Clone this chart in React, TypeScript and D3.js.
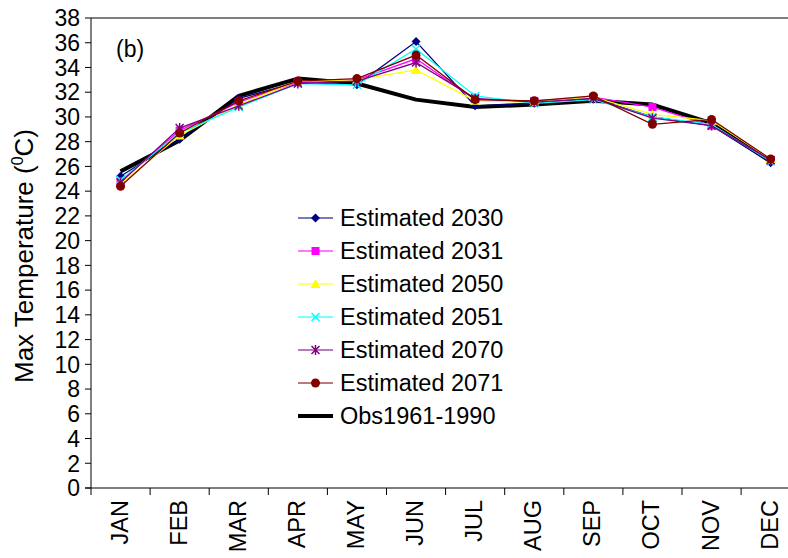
import React from "react";
import * as d3 from "d3";

const months = ["JAN", "FEB", "MAR", "APR", "MAY", "JUN", "JUL", "AUG", "SEP", "OCT", "NOV", "DEC"];
const yTicks = d3.range(0, 39, 2);

const est2030 = [25.2, 28.2, 31.5, 32.8, 32.6, 36.1, 30.9, 31.1, 31.5, 30.0, 29.3, 26.3];
const est2031 = [24.8, 28.9, 31.2, 32.8, 33.0, 34.7, 31.4, 31.3, 31.6, 30.8, 29.3, 26.5];
const est2050 = [24.6, 28.5, 31.0, 32.9, 33.0, 33.8, 31.3, 31.2, 31.6, 30.2, 29.7, 26.6];
const est2051 = [24.9, 28.7, 30.8, 32.7, 32.6, 35.5, 31.7, 31.1, 31.4, 30.0, 29.4, 26.4];
const est2070 = [24.7, 29.1, 30.9, 32.7, 32.9, 34.4, 31.5, 31.2, 31.5, 29.9, 29.3, 26.5];
const est2071 = [24.4, 28.7, 31.3, 32.9, 33.1, 35.0, 31.4, 31.3, 31.7, 29.4, 29.8, 26.6];
const obs = [25.6, 28.1, 31.7, 33.1, 32.7, 31.4, 30.8, 31.0, 31.3, 31.0, 29.5, 26.4];

type Marker = "diamond" | "square" | "triangle" | "x" | "asterisk" | "circle" | "none";

const series: { name: string; values: number[]; color: string; marker: Marker }[] = [
  { name: "Estimated 2030", values: est2030, color: "#000080", marker: "diamond" },
  { name: "Estimated 2031", values: est2031, color: "#FF00FF", marker: "square" },
  { name: "Estimated 2050", values: est2050, color: "#FFFF00", marker: "triangle" },
  { name: "Estimated 2051", values: est2051, color: "#00FFFF", marker: "x" },
  { name: "Estimated 2070", values: est2070, color: "#800080", marker: "asterisk" },
  { name: "Estimated 2071", values: est2071, color: "#800000", marker: "circle" },
];
const obsSeries = { name: "Obs1961-1990", values: obs, color: "#000000" };

const W = 788;
const H = 558;
const plotLeft = 91;
const plotTop = 18;
const plotBottom = 488;
const bandW = 59.1;
const FONT = "'Liberation Sans', Arial, sans-serif";

function MarkerShape({ type, x, y, color }: { type: Marker; x: number; y: number; color: string }) {
  const s = 4.5;
  switch (type) {
    case "diamond":
      return <path d={`M${x},${y - s}L${x + s},${y}L${x},${y + s}L${x - s},${y}Z`} fill={color} />;
    case "square":
      return <rect x={x - 4} y={y - 4} width={8} height={8} fill={color} />;
    case "triangle":
      return <path d={`M${x},${y - 5}L${x + 5},${y + 4}L${x - 5},${y + 4}Z`} fill={color} />;
    case "x":
      return (
        <path d={`M${x - 4},${y - 4}L${x + 4},${y + 4}M${x - 4},${y + 4}L${x + 4},${y - 4}`} stroke={color} strokeWidth={1.5} />
      );
    case "asterisk":
      return (
        <path
          d={`M${x - 4},${y - 4}L${x + 4},${y + 4}M${x - 4},${y + 4}L${x + 4},${y - 4}M${x},${y - 5}L${x},${y + 5}`}
          stroke={color}
          strokeWidth={1.5}
        />
      );
    case "circle":
      return <circle cx={x} cy={y} r={4.5} fill={color} />;
    default:
      return null;
  }
}

export default function App() {
  const x = d3
    .scaleBand<string>()
    .domain(months)
    .range([plotLeft, plotLeft + bandW * months.length])
    .padding(0);
  const y = d3.scaleLinear().domain([0, 38]).range([plotBottom, plotTop]);
  const cx = (m: string) => (x(m) as number) + x.bandwidth() / 2;

  const line = d3
    .line<number>()
    .x((_, i) => cx(months[i]))
    .y((d) => y(d));

  const legendX = 298;
  const legendY = 218;
  const legendStep = 33;

  return (
    <svg width={W} height={H} style={{ position: "absolute", left: 0, top: 0, background: "#fff" }} fontFamily={FONT}>
      <rect x={0} y={0} width={W} height={H} fill="#fff" />

      {/* plot frame */}
      <line x1={plotLeft} x2={W + 20} y1={plotTop} y2={plotTop} stroke="#000" strokeWidth={1} />
      <line x1={plotLeft} x2={plotLeft} y1={plotTop} y2={plotBottom} stroke="#000" strokeWidth={1} />
      <line x1={plotLeft - 6} x2={W + 20} y1={plotBottom} y2={plotBottom} stroke="#000" strokeWidth={1} />

      {/* y axis */}
      {yTicks.map((t) => (
        <g key={t}>
          <line x1={plotLeft - 6} x2={plotLeft} y1={y(t)} y2={y(t)} stroke="#000" />
          <text x={80} y={y(t)} dy="0.36em" textAnchor="end" fontSize={23}>
            {t}
          </text>
        </g>
      ))}
      <text transform={`translate(33,256) rotate(-90)`} textAnchor="middle" fontSize={26}>
        Max Temperature (
        <tspan dy={-10} fontSize={16}>
          0
        </tspan>
        <tspan dy={10}>C)</tspan>
      </text>

      {/* x axis */}
      {months.map((m) => (
        <g key={m}>
          <line x1={x(m) as number} x2={x(m) as number} y1={plotBottom} y2={plotBottom + 7} stroke="#000" />
          <text transform={`translate(${cx(m) + 7},500) rotate(-90)`} textAnchor="end" fontSize={23.5}>
            {m}
          </text>
        </g>
      ))}

      <text x={116} y={57} fontSize={23}>
        (b)
      </text>

      {/* observed baseline */}
      <path d={line(obsSeries.values) ?? ""} fill="none" stroke="#000" strokeWidth={4} strokeLinejoin="round" />

      {/* projected series */}
      {series.map((s) => (
        <g key={s.name}>
          <path d={line(s.values) ?? ""} fill="none" stroke={s.color} strokeWidth={1.3} />
          {s.values.map((v, i) => (
            <MarkerShape key={i} type={s.marker} x={cx(months[i])} y={y(v)} color={s.color} />
          ))}
        </g>
      ))}

      {/* legend */}
      {[...series, { ...obsSeries, marker: "none" as Marker }].map((s, i) => {
        const ly = legendY + i * legendStep;
        const isObs = s.name === obsSeries.name;
        return (
          <g key={s.name}>
            <line
              x1={legendX}
              x2={legendX + 35}
              y1={ly}
              y2={ly}
              stroke={s.color}
              strokeWidth={isObs ? 4 : 1.5}
              strokeOpacity={isObs ? 1 : 0.7}
            />
            <MarkerShape type={s.marker} x={legendX + 17.5} y={ly} color={s.color} />
            <text x={340} y={ly} dy="0.36em" fontSize={23.5}>
              {s.name}
            </text>
          </g>
        );
      })}
    </svg>
  );
}
